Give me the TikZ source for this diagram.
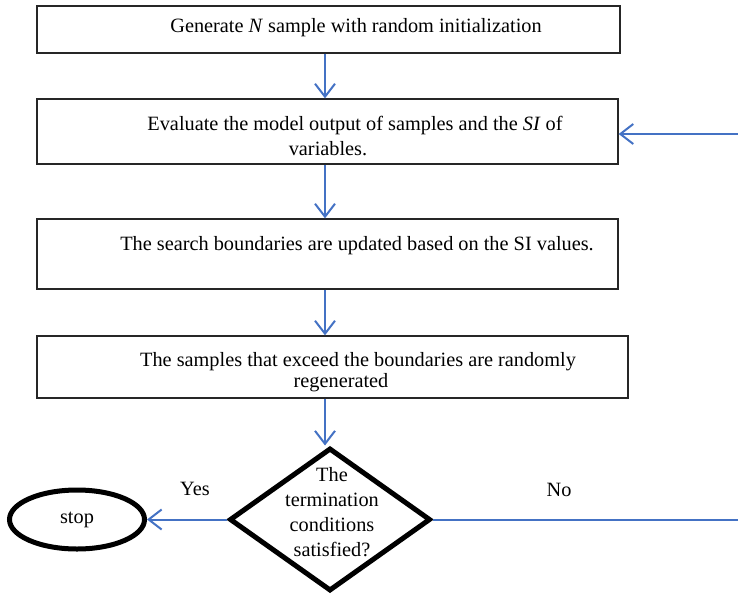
\documentclass[tikz,border=0pt]{standalone}
\usepackage{fontspec}
\setmainfont{Liberation Serif}
\usetikzlibrary{positioning,arrows.meta,shapes.geometric}
\definecolor{flowblue}{RGB}{68,114,196}

\begin{document}
\begin{tikzpicture}[x = 1pt, y = -1pt, >={Straight Barb[length=13pt, width=20pt]},
		box/.style 2 args = {draw=black!85, line width=1.3pt, minimum width=#1, minimum height=#2, inner sep=0pt},
		flow/.style = {draw=flowblue, line width=2pt},
		every node/.style = {font=\fontsize{20.3}{25}\selectfont}]
	\useasboundingbox (0,0) rectangle (738,594);
	\coordinate (ax) at (325,0);
	% process boxes
	\node (b1) at (328.5,29.5) [box={583pt}{47pt}] {};
	\node (b2) at (327.5,131.5) [box={581pt}{65pt}] {};
	\node (b3) at (327.5,254) [box={581pt}{70pt}] {};
	\node (b4) at (332.5,367) [box={591pt}{62pt}] {};
	\node (t1) at (356,28) {Generate \textit{N} sample with random initialization};
	\node (t2) at (355,136) [align=center] {Evaluate the model output of samples and the \textit{SI} of\\\hspace*{-54pt}variables.};
	\node (t3) at (357,246) {The search boundaries are updated based on the SI values.};
	\node (t4) at (358,372) [align=center, font=\fontsize{20.3}{21}\selectfont] {The samples that exceed the boundaries are randomly\\\hspace*{-34pt}regenerated};
	% decision and end
	\node (dec) at (330,519.5) [diamond, draw, line width=5pt, minimum width=201pt, minimum height=143pt, inner sep=0pt] {};
	\node (q) at (332,512) [align=center] {The\\termination\\conditions\\satisfied?};
	\node (stop) at (77,519.5) [ellipse, draw, line width=5pt, minimum width=135pt, minimum height=59pt] {stop};
	\draw [flow, ->] (b1.south -| ax) -- (b2.north -| ax);
	\draw [flow, ->] (b2.south -| ax) -- (b3.north -| ax);
	\draw [flow, ->] (b3.south -| ax) -- (b4.north -| ax);
	\draw [flow, ->] (b4.south -| ax) -- (dec.north -| ax);
	\draw [flow, ->] (dec.west) -- (stop.east);
	\node (yes) at (195,489) {Yes};
	\coordinate (rb) at (738,519.5);
	\draw [flow] (dec.east) -- (rb);
	\node (no) at (559,490) {No};
	\coordinate (rt) at (738,134);
	\draw [flow, ->] (rt) -- (b2.east |- rt);
\end{tikzpicture}
\end{document}
